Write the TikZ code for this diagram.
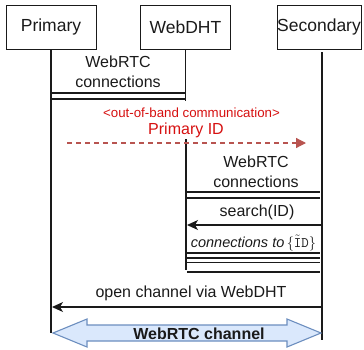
\documentclass[tikz,border=0pt]{standalone}
\usepackage{fontspec}
\setmainfont{Liberation Sans}
\usetikzlibrary{arrows.meta,calc}
\definecolor{ink}{RGB}{26,26,26}
\definecolor{oobtext}{RGB}{214,16,16}
\definecolor{oobline}{RGB}{184,84,80}
\definecolor{chanfill}{RGB}{218,232,252}
\definecolor{chanline}{RGB}{108,142,191}
\tikzset{
  actor/.style={draw=ink, minimum width=90pt, minimum height=44pt, inner sep=0pt,
    font=\fontsize{17.5}{20}\selectfont, text=ink},
  lifeline/.style={draw=ink, line width=1.2pt},
  msgline/.style={draw=ink, line width=1.2pt},
  msgarrow/.style={draw=ink, line width=1.2pt, -{Stealth[length=11pt,width=10pt,inset=3pt]}},
  msgtext/.style={font=\fontsize{16}{20}\selectfont, text=ink, inner sep=0pt, align=center},
  oob/.style={draw=oobline, line width=1.2pt, dash pattern=on 5pt off 4pt,
    -{Triangle[length=10pt,width=10pt]}},
  oobtext/.style={text=oobtext, inner sep=0pt},
}
\begin{document}
\begin{tikzpicture}[x=1pt,y=-1pt]
\useasboundingbox (0,0) rectangle (364,349);

% participants
\node[actor] (pri) at (51,27) {Primary};
\node[actor] (dht) at (185.5,27) {WebDHT};
\node[actor, minimum width=84pt] (sec) at (319,27) {Secondary};

% lifelines
\coordinate (priEnd) at (51,333);
\coordinate (dhtEnd1) at (185.5,101);
\coordinate (dhtTop2) at (186,139);
\coordinate (dhtEnd2) at (186,270);
\coordinate (secTop) at (322,52);
\coordinate (secEnd) at (322,340);
\draw[lifeline] (pri.south) -- (priEnd);
\draw[lifeline] (dht.south) -- (dhtEnd1);
\draw[lifeline] (dhtTop2) -- (dhtEnd2);
\draw[lifeline] (secTop) -- (secEnd);

% Primary <-> WebDHT connections
\node[msgtext] (conn1) at (118,72) {WebRTC\\connections};
\coordinate (c1a) at (51,93);  \coordinate (c1b) at (185.5,93);
\coordinate (c1c) at (51,99);  \coordinate (c1d) at (185.5,99);
\draw[msgline] (c1a) -- (c1b);
\draw[msgline] (c1c) -- (c1d);

% out-of-band exchange of the primary ID
\node[oobtext, font=\fontsize{13.3}{15}\selectfont] (oob) at (191.5,113) {<out-of-band communication>};
\node[oobtext, font=\fontsize{16}{18}\selectfont] (pid) at (186,130) {Primary ID};
\coordinate (oobA) at (67,143);
\coordinate (oobB) at (306,143);
\draw[oob] (oobA) -- (oobB);

% Secondary <-> WebDHT connections
\node[msgtext] (conn2) at (256,172) {WebRTC\\connections};
\coordinate (c2a) at (187,192);  \coordinate (c2b) at (320,192);
\coordinate (c2c) at (187,198);  \coordinate (c2d) at (320,198);
\draw[msgline] (c2a) -- (c2b);
\draw[msgline] (c2c) -- (c2d);

% lookup of the ID
\node[msgtext] (search) at (257,212) {search(ID)};
\coordinate (sA) at (322,225);
\coordinate (sB) at (187,225);
\draw[msgarrow] (sA) -- (sB);

% connections to the peers found
\node[msgtext, font=\fontsize{14.5}{17}\selectfont] (connto) at (253.5,243)
  {\itshape connections to\,$\{\tilde{\mathtt{I}}\mathtt{D}\}$};
\foreach \yy/\nm in {253/l1, 258/l2, 262.5/l3, 272/l4} {
  \coordinate (\nm a) at (187,\yy);
  \coordinate (\nm b) at (320,\yy);
  \draw[msgline] (\nm a) -- (\nm b);
}

% channel opening
\node[msgtext] (open) at (191,293) {open channel via WebDHT};
\coordinate (oA) at (322,307);
\coordinate (oB) at (52,307);
\draw[msgarrow] (oA) -- (oB);

% resulting WebRTC channel
\coordinate (chL) at (53,333);
\coordinate (chR) at (321,333);
\draw[draw=chanline, fill=chanfill, line width=1.1pt, line join=miter]
  (chL) -- ++(34,-14) -- ++(0,6) -- ($(chR)+(-34,-8)$) -- ++(0,-6) -- (chR)
  -- ++(-34,14) -- ++(0,-6) -- ($(chL)+(34,8)$) -- ++(0,6) -- cycle;
\node[msgtext, font=\fontsize{16}{18}\bfseries\selectfont] (chan) at (199,334) {WebRTC channel};
\end{tikzpicture}
\end{document}
